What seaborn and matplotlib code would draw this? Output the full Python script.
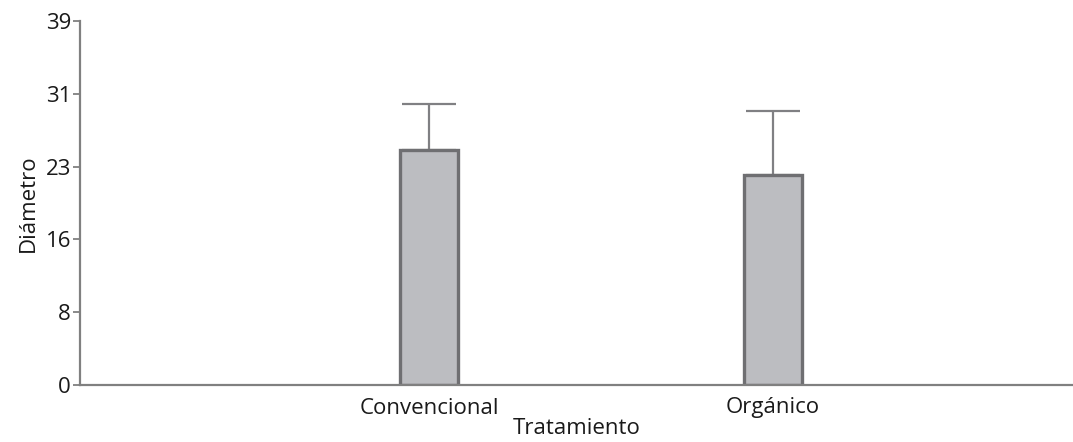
import matplotlib
matplotlib.use("Agg")
import matplotlib.pyplot as plt
import seaborn as sns
import numpy as np
import pandas as pd

categories = ["Convencional", "Orgánico"]
means = [25.2, 22.5]
upper_err = [4.9, 6.9]
ytick_values = [0, 7.8, 15.6, 23.4, 31.2, 39]
ytick_labels = ["0", "8", "16", "23", "31", "39"]

sns.set_theme(style="white")
plt.rcParams['font.family'] = ['Open Sans', 'DejaVu Sans']

df = pd.DataFrame({"Tratamiento": categories, "Diámetro": means})

fig = plt.figure(figsize=(10.73, 4.42), dpi=100)
ax = fig.add_axes([80/1073, 1 - 385/442, 1 - 80/1073, (385 - 21)/442])

sns.barplot(data=df, x="Tratamiento", y="Diámetro", ax=ax, width=0.17,
            color="#bcbdc1", edgecolor="#6f6f72", linewidth=2.4, errorbar=None,
            saturation=1, zorder=3)
ax.errorbar(np.arange(len(categories)), means,
            yerr=[np.zeros(len(categories)), upper_err],
            fmt="none", ecolor="#808083", elinewidth=1.6, capsize=19.3, capthick=1.6,
            zorder=1)

ax.set_xlim(-1.015, 1.872)
ax.set_ylim(0, 39)
ax.set_yticks(ytick_values)
ax.set_yticklabels(ytick_labels)

for s in ["top", "right"]:
    ax.spines[s].set_visible(False)
for s in ["left", "bottom"]:
    ax.spines[s].set_color("#808080")
    ax.spines[s].set_linewidth(1.6)
    ax.spines[s].set_zorder(4)

fs = 16
ax.tick_params(axis="y", which="both", left=True, length=5, width=1.3, color="#808080",
               labelsize=fs, labelcolor="#1a1a1a", pad=1.5)
ax.tick_params(axis="x", bottom=False, labelsize=fs, labelcolor="#1a1a1a", pad=3)
ax.set_xlabel("Tratamiento", fontsize=fs, color="#1a1a1a", labelpad=0)
ax.set_ylabel("Diámetro", fontsize=fs, color="#1a1a1a", labelpad=5)
ax.set_facecolor("white")

fig.savefig("out.png", dpi=100, facecolor="white")
